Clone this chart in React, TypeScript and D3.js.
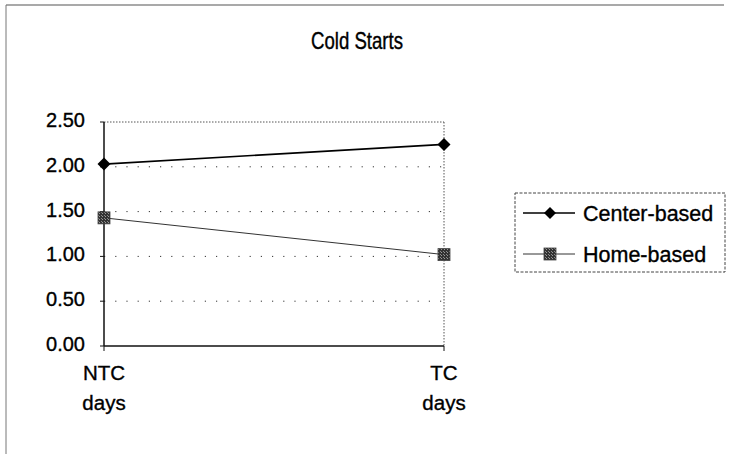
import React from "react";
import * as d3 from "d3";

// Chart data
const categories = ["NTC\ndays", "TC\ndays"];
const centerBased = [2.03, 2.25];
const homeBased = [1.43, 1.02];
const yTicks = [0, 0.5, 1.0, 1.5, 2.0, 2.5];
const seriesNames = ["Center-based", "Home-based"];

const W = 732;
const H = 454;
const plot = { left: 104, right: 444, top: 122, bottom: 346 };
const FONT = "'Liberation Sans', Arial, sans-serif";
const textInk = { fill: "#000", stroke: "#000", strokeWidth: 0.35 };

export default function App() {
  const x = d3
    .scalePoint<string>()
    .domain(categories)
    .range([plot.left, plot.right]);
  const y = d3.scaleLinear().domain([0, 2.5]).range([plot.bottom, plot.top]);

  const line = d3
    .line<number>()
    .x((_, i) => x(categories[i]) as number)
    .y((d) => y(d));

  const diamond = (cx: number, cy: number, r = 6.5) =>
    `M${cx},${cy - r}L${cx + r},${cy}L${cx},${cy + r}L${cx - r},${cy}Z`;

  const square = (cx: number, cy: number, key: string) => (
    <rect
      key={key}
      x={cx - 6}
      y={cy - 6}
      width={12}
      height={12}
      fill="url(#stipple)"
      stroke="#444"
      strokeWidth={0.8}
    />
  );

  const legend = { x: 515, y: 193, w: 210, h: 79 };
  const rowY = [213, 254];

  return (
    <svg
      width={W}
      height={H}
      style={{ position: "absolute", left: 0, top: 0, background: "#fff" }}
      fontFamily={FONT}
    >
      <defs>
        <pattern id="stipple" width="3" height="3" patternUnits="userSpaceOnUse">
          <rect width="3" height="3" fill="#333" />
          <rect width="1" height="1" fill="#999" />
          <rect x="2" y="2" width="1" height="1" fill="#888" />
        </pattern>
      </defs>

      {/* outer frame (top and left edges) */}
      <line x1={6} x2={724} y1={5} y2={5} stroke="#555" strokeWidth={1.2} />
      <line x1={6} x2={6} y1={5} y2={H} stroke="#777" strokeWidth={1} />

      {/* title */}
      <text
        transform="translate(357,49) scale(0.93,1.15)"
        textAnchor="middle"
        fontSize={20}
        {...textInk}
      >
        Cold Starts
      </text>

      {/* gridlines */}
      {yTicks
        .filter((t) => t > 0 && t < 2.5)
        .map((t) => (
          <line
            key={t}
            x1={plot.left}
            x2={plot.right}
            y1={y(t)}
            y2={y(t)}
            stroke="#333"
            strokeWidth={1}
            strokeDasharray="1.2 10"
          />
        ))}

      {/* plot area top and right borders */}
      <line
        x1={plot.left}
        x2={plot.right}
        y1={plot.top}
        y2={plot.top}
        stroke="#555"
        strokeDasharray="1.5 1.5"
      />
      <line
        x1={plot.right}
        x2={plot.right}
        y1={plot.top}
        y2={plot.bottom}
        stroke="#555"
        strokeDasharray="1.5 1.5"
      />

      {/* axes */}
      <line x1={plot.left} x2={plot.left} y1={plot.top} y2={plot.bottom} stroke="#111" strokeWidth={1.5} />
      <line x1={plot.left} x2={plot.right} y1={plot.bottom} y2={plot.bottom} stroke="#111" strokeWidth={1.5} />

      {/* y ticks and labels */}
      {yTicks.map((t) => (
        <g key={t}>
          <line x1={plot.left - 4} x2={plot.left} y1={y(t)} y2={y(t)} stroke="#111" />
          <text
            x={85}
            y={y(t) - 2}
            dy="0.35em"
            textAnchor="end"
            fontSize={20}
            {...textInk}
          >
            {d3.format(".2f")(t)}
          </text>
        </g>
      ))}

      {/* x ticks and labels */}
      {categories.map((c) => {
        const cx = x(c) as number;
        const parts = c.split("\n");
        return (
          <g key={c}>
            <line x1={cx} x2={cx} y1={plot.bottom} y2={plot.bottom + 5} stroke="#111" />
            {parts.map((p, i) => (
              <text
                key={p}
                x={cx}
                y={380 + i * 30}
                textAnchor="middle"
                fontSize={20.5}
                {...textInk}
              >
                {p}
              </text>
            ))}
          </g>
        );
      })}

      {/* Home-based series */}
      <path d={line(homeBased) ?? ""} fill="none" stroke="#333" strokeWidth={1} />
      {homeBased.map((v, i) => square(x(categories[i]) as number, y(v), `h${i}`))}

      {/* Center-based series */}
      <path d={line(centerBased) ?? ""} fill="none" stroke="#000" strokeWidth={1.6} />
      {centerBased.map((v, i) => (
        <path key={`c${i}`} d={diamond(x(categories[i]) as number, y(v))} fill="#000" />
      ))}

      {/* legend */}
      <rect
        x={legend.x}
        y={legend.y}
        width={legend.w}
        height={legend.h}
        fill="#fff"
        stroke="#444"
        strokeDasharray="3 1.5"
      />
      {seriesNames.map((name, i) => (
        <g key={name}>
          <line
            x1={523}
            x2={575}
            y1={rowY[i]}
            y2={rowY[i]}
            stroke={i === 0 ? "#000" : "#333"}
            strokeWidth={i === 0 ? 1.4 : 1}
          />
          {i === 0 ? (
            <path d={diamond(550, rowY[i], 6)} fill="#000" />
          ) : (
            square(550, rowY[i], "lg")
          )}
          <text x={583} y={rowY[i]} dy="0.35em" fontSize={21.5} {...textInk}>
            {name}
          </text>
        </g>
      ))}
    </svg>
  );
}
